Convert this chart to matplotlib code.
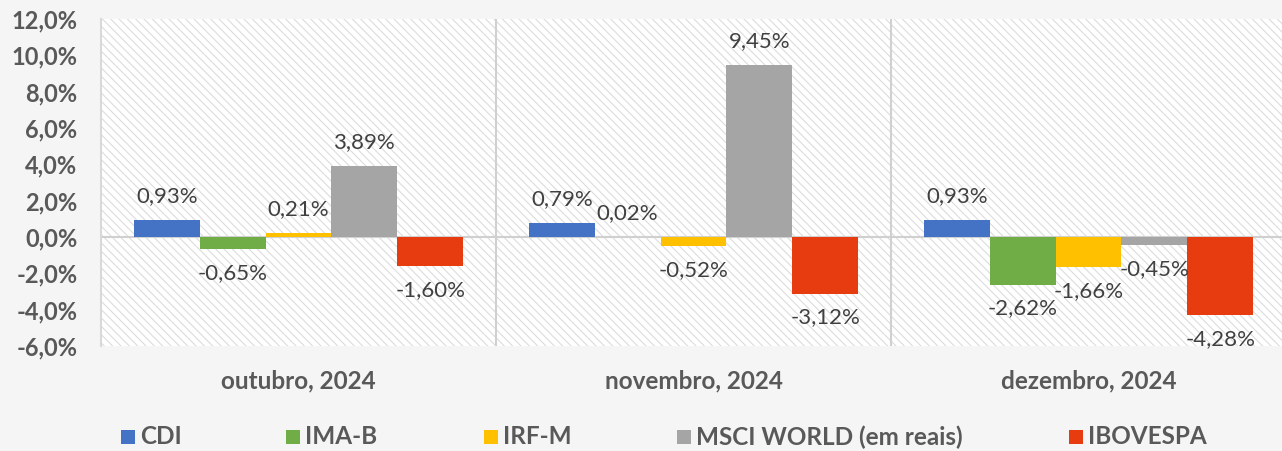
import matplotlib
matplotlib.use("Agg")
import matplotlib.pyplot as plt
from matplotlib.patches import Rectangle
import numpy as np

categories = ["outubro, 2024", "novembro, 2024", "dezembro, 2024"]
series_names = ["CDI", "IMA-B", "IRF-M", "MSCI WORLD (em reais)", "IBOVESPA"]
cdi = [0.93, 0.79, 0.93]
ima_b = [-0.65, 0.02, -2.62]
irf_m = [0.21, -0.52, -1.66]
msci = [3.89, 9.45, -0.45]
ibov = [-1.60, -3.12, -4.28]
series_values = [cdi, ima_b, irf_m, msci, ibov]
colors = ["#4472C4", "#70AD47", "#FFC000", "#A5A5A5", "#E63C10"]
yticks = [-6, -4, -2, 0, 2, 4, 6, 8, 10, 12]

plt.rcParams['font.family'] = ['Lato', 'DejaVu Sans']
plt.rcParams['hatch.linewidth'] = 0.8

W, H = 1282, 451
fig = plt.figure(figsize=(W / 100, H / 100), dpi=100)
fig.patch.set_facecolor("#f5f5f5")

left, right, top, bottom = 101, 1282, 19, 346
ax = fig.add_axes([left / W, (H - bottom) / H, (right - left) / W, (bottom - top) / H])
ax.set_facecolor("white")
ax.add_patch(Rectangle((0, 0), 1, 1, transform=ax.transAxes, facecolor="white",
                       hatch="\\\\\\\\", edgecolor="#dcdcdc", linewidth=0, zorder=0))

x = np.arange(len(categories))
bw = 1 / 6
for i, (vals, c) in enumerate(zip(series_values, colors)):
    pos = x - 0.5 + bw / 2 + (i + 0.5) * bw
    ax.bar(pos, vals, width=bw, color=c, zorder=3, linewidth=0)
    for px, v in zip(pos, vals):
        lab = f"{v:.2f}%".replace(".", ",")
        if v >= 0:
            ax.annotate(lab, (px, v), xytext=(0, 10), textcoords="offset points",
                        ha="center", va="bottom", fontsize=16, color="#404040", zorder=4)
        else:
            ax.annotate(lab, (px, v), xytext=(0, -10), textcoords="offset points",
                        ha="center", va="top", fontsize=16, color="#404040", zorder=4)

ax.set_xlim(-0.5, -0.5 + (right - left) / 395)
ax.set_ylim(-6, 12)
ax.set_yticks(yticks)
ax.set_yticklabels([f"{t:.1f}%".replace(".", ",") for t in yticks],
                   fontsize=17, fontweight="bold", color="#595959")
ax.tick_params(axis="y", length=0, pad=17)
ax.set_xticks([])
for s in ["top", "right", "bottom"]:
    ax.spines[s].set_visible(False)
ax.spines["left"].set_color("#d9d9d9")
ax.spines["left"].set_linewidth(1.5)
ax.axhline(0, color="#d0d0d0", linewidth=1.5, zorder=2)
for b in [0.5, 1.5]:
    ax.axvline(b, color="#d0d0d0", linewidth=1.5, zorder=2)

ypx = 18 / (bottom - top)
for xi, cat in zip(x, categories):
    ax.text(xi, -6 - 35 * ypx, cat, ha="center", va="center",
            fontsize=17.5, fontweight="bold", color="#595959")

# legend
leg_marker_x = [121, 286, 484, 677, 1069]
for mx, name, c in zip(leg_marker_x, series_names, colors):
    fig.patches.append(Rectangle((mx / W, (H - 444) / H), 14 / W, 14 / H,
                                 transform=fig.transFigure, facecolor=c, edgecolor="none"))
    fig.text((mx + 19) / W, (H - 437) / H, name, ha="left", va="center",
             fontsize=17.5, fontweight="bold", color="#595959")

fig.savefig("out.png", dpi=100, facecolor=fig.get_facecolor())
